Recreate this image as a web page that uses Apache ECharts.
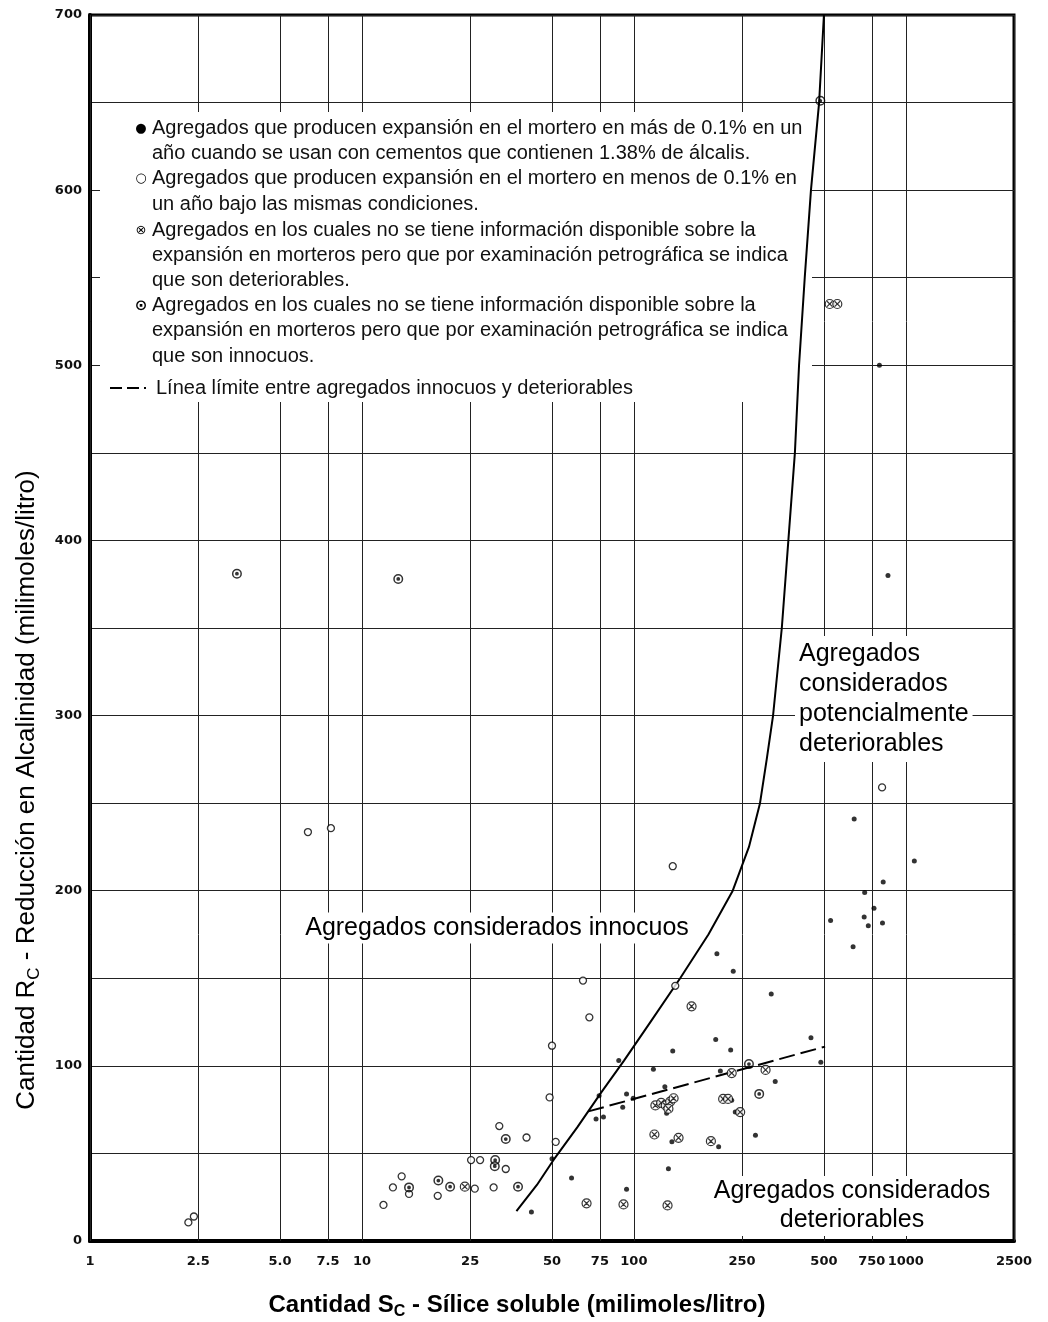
<!DOCTYPE html>
<html>
<head>
<meta charset="utf-8">
<script src="https://cdn.jsdelivr.net/npm/echarts@6/dist/echarts.min.js"></script>
<style>
  html, body { margin: 0; padding: 0; background: #fff; }
  #chart { width: 1048px; height: 1322px; }
</style>
</head>
<body>
<div id="chart"></div>
<script>
// x gridlines / tick labels (log axis, milimoles/litro)
var xTickValues = [1, 2.5, 5, 7.5, 10, 25, 50, 75, 100, 250, 500, 750, 1000, 2500];
var xTickLabels = ['1', '2.5', '5.0', '7.5', '10', '25', '50', '75', '100', '250', '500', '750', '1000', '2500'];

// solid boundary curve
var curveX = [37, 44, 50.5, 62, 76, 92, 115, 148, 188, 231, 265, 291, 308, 325, 350, 370, 391, 405, 425, 448, 480, 500];
var curveY = [17, 32, 46, 65, 85, 103, 125, 150, 175, 200, 225, 250, 275, 300, 350, 400, 450, 500, 550, 600, 650, 700];

// dashed limit line
var dashX = [68, 505];
var dashY = [74, 111];

// ● expansion > 0.1%
var filledPts = [
  [50, 47], [59, 36], [42, 16.5], [88, 103], [118, 98], [200, 115], [227, 109], [139, 108.5],
  [448, 116], [487, 102], [331, 91], [208, 97], [130, 88], [74.5, 83], [94, 84], [99.5, 81.5],
  [91, 76.4], [72.6, 69.7], [77.3, 70.8], [132, 73], [229, 80.3], [236, 73.6], [280, 60.4],
  [138, 56.6], [205, 53.8], [134, 41.3], [94, 29.6], [202, 164], [232, 154], [320, 141],
  [640, 168], [646, 241], [1075, 217], [826, 205], [706, 199], [764, 190], [703, 185],
  [821, 181.5], [728, 180], [529, 183], [800, 500], [860, 380]
];

// ○ expansion < 0.1%
var openPts = [
  [2.30, 10.6], [2.41, 14], [6.33, 233.5], [7.69, 235.7], [12.0, 20.6], [13.0, 30.6],
  [14.0, 36.9], [14.9, 26.9], [19.0, 25.8], [26.0, 29.9], [25.2, 46.2], [27.2, 46.2],
  [33.8, 41.1], [30.5, 30.6], [32, 65.6], [40.3, 59.1], [51.6, 56.6], [65, 148.7],
  [68.6, 127.7], [50, 111.5], [49, 82], [139, 214], [142, 145.7], [818, 259]
];

// ⊗ petrographic: deteriorables
var crossPts = [
  [163, 134], [305, 97.7], [229, 95.9], [120, 77.4], [126, 78.9], [131, 77.4], [136, 79.6],
  [140, 81.5], [134, 75.5], [213, 81.1], [222, 81.1], [246, 73.6], [119, 60.8], [146, 58.9],
  [192, 57], [67, 21.5], [91.6, 20.9], [133, 20.3], [23.9, 31], [525, 535], [560, 535]
];

// ⊙ petrographic: innocuos
var dotPts = [
  [14.9, 30.6], [19.1, 34.5], [21.1, 31.0], [30.9, 46.2], [30.8, 42.7], [33.8, 58.2],
  [37.5, 31.0], [265, 101], [289, 84], [3.47, 381], [13.6, 378], [485, 651]
];

var legendLines = [
  'Agregados que producen expansión en el mortero en más de 0.1% en un',
  'año cuando se usan con cementos que contienen 1.38% de álcalis.',
  'Agregados que producen expansión en el mortero en menos de 0.1% en',
  'un año bajo las mismas condiciones.',
  'Agregados en los cuales no se tiene información disponible sobre la',
  'expansión en morteros pero que por examinación petrográfica se indica',
  'que son deteriorables.',
  'Agregados en los cuales no se tiene información disponible sobre la',
  'expansión en morteros pero que por examinación petrográfica se indica',
  'que son innocuos.',
  'Línea límite entre agregados innocuos y deteriorables'
];
var legendMarks = ['●', '', '○', '', '⊗', '', '', '⊙', '', '', ''];

var CROSS = 'path://M0,5 A5,5 0 1,1 10,5 A5,5 0 1,1 0,5 Z M2,2 L8,8 M8,2 L2,8';
var BULLSEYE = 'path://M0,5 A5,5 0 1,1 10,5 A5,5 0 1,1 0,5 Z M1.5,5 A3.5,3.5 0 1,0 8.5,5 A3.5,3.5 0 1,0 1.5,5 Z M3.1,5 A1.9,1.9 0 1,1 6.9,5 A1.9,1.9 0 1,1 3.1,5 Z';
var TEXT_FONT = '"Liberation Sans", Arial, sans-serif';
var TICK_FONT = '"DejaVu Sans", sans-serif';

var chart = echarts.init(document.getElementById('chart'));

function pairs(xs, ys) {
  return xs.map(function (x, i) { return [x, ys[i]]; });
}

var elements = [];
// white panel behind the explanation text
elements.push({
  type: 'rect', z: 3, silent: true,
  shape: { x: 100, y: 112, width: 712, height: 290 },
  style: { fill: '#fff' }
});
var lineTop = [128, 153, 178, 204, 230, 255, 280, 305, 330, 356, 388];
legendLines.forEach(function (t, i) {
  elements.push({
    type: 'text', z: 10, silent: true,
    x: i === 10 ? 156 : 152, y: lineTop[i],
    style: { text: t, font: '20px ' + TEXT_FONT, fill: '#111', verticalAlign: 'middle', align: 'left' }
  });
  if (legendMarks[i]) {
    elements.push({
      type: 'text', z: 10, silent: true,
      x: 141, y: lineTop[i] + 1,
      style: { text: legendMarks[i], font: (legendMarks[i] === '⊙' ? 'bold 15px ' : '13px ') + TICK_FONT, fill: '#000', verticalAlign: 'middle', align: 'center' }
    });
  }
});
elements.push({
  type: 'line', z: 10, silent: true,
  shape: { x1: 110, y1: 388, x2: 146, y2: 388 },
  style: { stroke: '#000', lineWidth: 2, lineDash: [12, 5] }
});

// region labels
elements.push({
  type: 'text', z: 10, silent: true, x: 497, y: 928,
  style: { text: 'Agregados considerados innocuos', font: '25px ' + TEXT_FONT, fill: '#000', align: 'center', verticalAlign: 'middle', backgroundColor: '#fff', padding: [3, 4] }
});
elements.push({
  type: 'text', z: 10, silent: true, x: 795, y: 699,
  style: { text: 'Agregados\nconsiderados\npotencialmente\ndeteriorables', font: '25px ' + TEXT_FONT, lineHeight: 30, fill: '#000', align: 'left', verticalAlign: 'middle', backgroundColor: '#fff', padding: [3, 4] }
});
elements.push({
  type: 'text', z: 10, silent: true, x: 852, y: 1206,
  style: { text: 'Agregados considerados\ndeteriorables', font: '25px ' + TEXT_FONT, lineHeight: 29, fill: '#000', align: 'center', verticalAlign: 'middle', backgroundColor: '#fff', padding: [1, 4] }
});

// axis titles
elements.push({
  type: 'text', z: 10, silent: true, x: 517, y: 1305,
  style: {
    text: '{a|Cantidad S}{s|C}{a| - Sílice soluble (milimoles/litro)}',
    align: 'center', verticalAlign: 'middle',
    rich: {
      a: { fontFamily: TEXT_FONT, fontWeight: 'bold', fontSize: 24, lineHeight: 30, fill: '#000' },
      s: { fontFamily: TEXT_FONT, fontWeight: 'bold', fontSize: 16, padding: [14, 0, 0, 0], fill: '#000' }
    }
  }
});
elements.push({
  type: 'text', z: 10, silent: true, x: 27, y: 790, rotation: Math.PI / 2,
  style: {
    text: '{a|Cantidad R}{s|C}{a| - Reducción en Alcalinidad (milimoles/litro)}',
    align: 'center', verticalAlign: 'middle',
    rich: {
      a: { fontFamily: TEXT_FONT, fontSize: 26, lineHeight: 32, fill: '#000' },
      s: { fontFamily: TEXT_FONT, fontSize: 17, padding: [14, 0, 0, 0], fill: '#000' }
    }
  }
});

var option = {
  backgroundColor: '#fff',
  animation: false,
  grid: { left: 90, right: 34, top: 15, bottom: 81, show: true, borderColor: '#000', borderWidth: 3 },
  xAxis: {
    type: 'log', logBase: 10, min: 1, max: 2500,
    axisLine: { show: true, lineStyle: { color: '#000', width: 4 } },
    axisTick: { show: false },
    axisLabel: { show: false },
    splitLine: { show: false },
    minorSplitLine: { show: false }
  },
  yAxis: {
    type: 'value', min: 0, max: 700, interval: 50,
    axisLine: { show: true, lineStyle: { color: '#000', width: 4 } },
    axisTick: { show: false },
    axisLabel: {
      margin: 8, color: '#111', fontSize: 13, fontWeight: 'bold', fontFamily: TICK_FONT,
      formatter: function (v) { return v % 100 === 0 ? String(v) : ''; }
    },
    splitLine: { lineStyle: { color: '#222', width: 1 } }
  },
  graphic: { elements: elements },
  series: [
    {
      name: 'grid-x', type: 'line', z: 1, data: [], silent: true,
      markLine: {
        z: 1, silent: true, symbol: ['none', 'none'], animation: false,
        lineStyle: { color: '#222', width: 1, type: 'solid' },
        label: {
          show: true, position: 'start', distance: 14, formatter: '{b}',
          color: '#111', fontSize: 13, fontWeight: 'bold', fontFamily: TICK_FONT
        },
        emphasis: { disabled: true },
        data: xTickValues.map(function (v, i) { return { xAxis: v, name: xTickLabels[i] }; })
      }
    },
    {
      name: 'Curva', type: 'line', z: 5, silent: true, showSymbol: false,
      data: pairs(curveX, curveY),
      lineStyle: { color: '#000', width: 2 }
    },
    {
      name: 'Línea límite', type: 'line', z: 5, silent: true, showSymbol: false,
      data: pairs(dashX, dashY),
      lineStyle: { color: '#000', width: 2, type: [16, 6] }
    },
    {
      name: 'expansión > 0.1%', type: 'scatter', z: 6, silent: true,
      data: filledPts, symbol: 'circle', symbolSize: 5,
      itemStyle: { color: '#000' }
    },
    {
      name: 'expansión < 0.1%', type: 'scatter', z: 6, silent: true,
      data: openPts, symbol: 'circle', symbolSize: 7,
      itemStyle: { color: '#fff', borderColor: '#000', borderWidth: 1.3 }
    },
    {
      name: 'deteriorables', type: 'scatter', z: 6, silent: true,
      data: crossPts, symbol: CROSS, symbolSize: 9,
      itemStyle: { color: '#fff', borderColor: '#000', borderWidth: 1.2 }
    },
    {
      name: 'innocuos', type: 'scatter', z: 6, silent: true,
      data: dotPts, symbol: BULLSEYE, symbolSize: 10,
      itemStyle: { color: '#000' }
    }
  ]
};

chart.setOption(option);
</script>
</body>
</html>
